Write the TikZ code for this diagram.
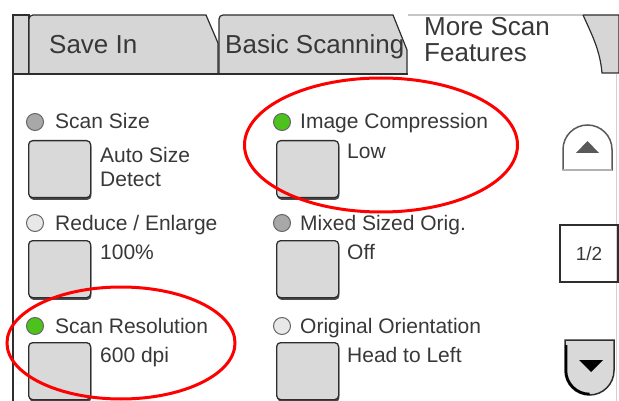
\documentclass[tikz,border=0pt]{standalone}
\usepackage{fontspec}
\setmainfont{Liberation Sans}
\usetikzlibrary{positioning}
\definecolor{tabgray}{HTML}{D6D6D6}
\definecolor{btngray}{HTML}{D9D9D9}
\definecolor{inkgray}{HTML}{383838}
\definecolor{edgegray}{HTML}{2E2E2E}
\definecolor{ledgreen}{HTML}{4CC21C}
\definecolor{ledgray}{HTML}{A8A8A8}
\definecolor{ledlight}{HTML}{E8E8E8}
\definecolor{markred}{HTML}{FF0000}

\begin{document}
\begin{tikzpicture}[x=1pt, y=-1pt, font=\fontsize{21}{24}\selectfont, text=inkgray,
	btn/.style={draw=edgegray, line width=1.3pt, fill=btngray, rounded corners=4pt, anchor=north west, minimum width=62pt, minimum height=57pt, inner sep=0pt,
		preaction={fill=gray!60!black, transform canvas={shift={(0.8pt,-2.2pt)}}}},
	led/.style={draw=gray!80!black, line width=1pt, circle, minimum size=17pt, inner sep=0pt},
	lbl/.style={anchor=base west, inner sep=0pt},
	tabtxt/.style={anchor=base west, inner sep=0pt, font=\fontsize{26}{26}\selectfont},
	redring/.style={draw=markred, line width=3pt}]
				\useasboundingbox (0,0) rectangle (619,401);
				% tab row
				\draw[edgegray, line width=1.2pt, fill=tabgray] (13,74) -- (13,15) -- (29,15) -- (29,74) -- cycle;
				\draw[edgegray, line width=1.2pt, fill=tabgray] (29,74) -- (29,19) to[out=90, in=180] (33,15) -- (206,15) -- (218,43) -- (218,74);
				\draw[edgegray, line width=1.2pt, fill=tabgray] (219,74) -- (219,19) to[out=90, in=180] (223,15) -- (393,15) -- (407,50) -- (407,74);
				\draw[gray!45, line width=1.2pt] (408,15) -- (583,15);
				\draw[edgegray, line width=1.2pt, fill=tabgray] (583,15) -- (619,15) -- (619,73) -- (602,73) .. controls (600,50) and (592,35) .. (583,15);
				\draw[edgegray, line width=1.3pt] (13,74) -- (408,74);
				\draw[edgegray, line width=1.3pt] (13,74) -- (13,401);
				\draw[gray!35, line width=0.8pt] (616,74) -- (616,401);
				\node[tabtxt] (tSave) at (49,54) {Save In};
				\node[tabtxt] (tBasic) at (225,54) {Basic Scanning};
				\node[tabtxt, align=left, anchor=north west, font=\fontsize{26}{26}\selectfont] (tMore) at (424,17) {More Scan\\Features};
				% left column
				\node[led, fill=ledgray] (dSize) at (35,122) {};
				\node[lbl] (lSize) at (55,129) {Scan Size};
				\node[btn] (bSize) at (28,140) {};
				\node[lbl, align=left, anchor=north west] (vSize) at (100,147) {Auto Size\\Detect};
				\node[led, fill=ledlight] (dReduce) at (35,223) {};
				\node[lbl] (lReduce) at (55,230) {Reduce / Enlarge};
				\node[btn] (bReduce) at (28,240) {};
				\node[lbl] (vReduce) at (100,259) {100\%};
				\node[led, fill=ledgreen] (dRes) at (35,326) {};
				\node[lbl] (lRes) at (55,333) {Scan Resolution};
				\node[btn] (bRes) at (28,342) {};
				\node[lbl] (vRes) at (100,362) {600 dpi};
				% right column
				\node[led, fill=ledgreen] (dComp) at (282,122) {};
				\node[lbl] (lComp) at (300,129) {Image Compression};
				\node[btn] (bComp) at (276,140) {};
				\node[lbl] (vComp) at (347,159) {Low};
				\node[led, fill=ledgray] (dMixed) at (282,223) {};
				\node[lbl] (lMixed) at (300,230) {Mixed Sized Orig.};
				\node[btn] (bMixed) at (276,240) {};
				\node[lbl] (vMixed) at (347,259) {Off};
				\node[led, fill=ledlight] (dOrient) at (282,326) {};
				\node[lbl] (lOrient) at (300,333) {Original Orientation};
				\node[btn] (bOrient) at (276,342) {};
				\node[lbl] (vOrient) at (347,362) {Head to Left};
				% scroll controls
				\draw[gray!70!black, line width=1.5pt, fill=white] (563,170) -- (563,149.5) arc[start angle=180, end angle=0, radius=24.5pt] -- (612,170) -- cycle;
				\draw[gray!60, line width=2pt] (563,170) -- (612,170);
				\fill[gray!70!black] (576,153) -- (599,153) -- (587.5,141) -- cycle;
				\node[draw=edgegray, line width=1.2pt, minimum width=58pt, minimum height=57pt, inner sep=0pt, font=\fontsize{19}{19}\selectfont] (page) at (589,253.5) {1/2};
				\draw[edgegray, line width=1.5pt, fill=btngray] (565,340) -- (614,340) -- (614,370.5) arc[start angle=0, end angle=-180, radius=24.5pt] -- cycle;
				\draw[black, line width=2.5pt] (566,345) -- (566,370.5) arc[start angle=180, end angle=270, radius=23.5pt];
				\fill[black] (579,360) -- (603,360) -- (591,372) -- cycle;
				% red marks
				\draw[redring] (381,145) ellipse [x radius=136.5, y radius=67];
				\draw[redring] (121,343) ellipse [x radius=114, y radius=56];
			\end{tikzpicture}
\end{document}
